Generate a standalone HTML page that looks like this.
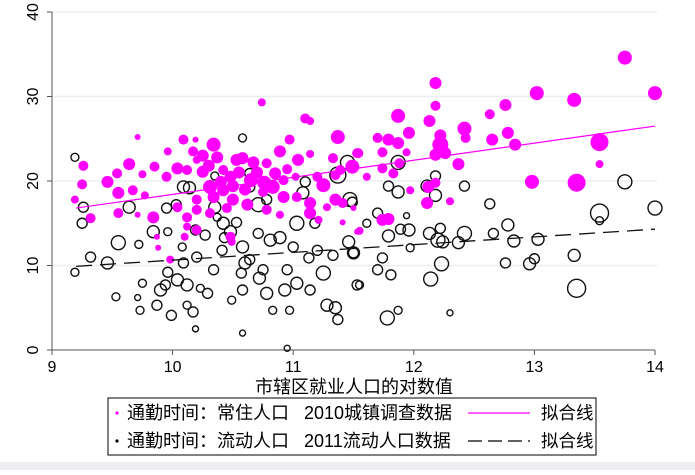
<!DOCTYPE html>
<html><head><meta charset="utf-8">
<style>
html,body{margin:0;padding:0;background:#fff;}
body{width:695px;height:470px;overflow:hidden;font-family:"Liberation Sans","Noto Sans CJK SC",sans-serif;}
</style></head>
<body>
<svg id="chart" width="695" height="470" xmlns="http://www.w3.org/2000/svg" font-family="Liberation Sans, Noto Sans CJK SC, sans-serif">
<rect x="0" y="0" width="695" height="470" fill="#fff"/>
<rect x="0" y="462" width="695" height="8" fill="#eceef2"/>
<g id="grid"></g>
<g id="axes"></g>
<g id="marks"></g>
<g id="fits"></g>
<text x="354" y="393" font-size="18" text-anchor="middle">市辖区就业人口的对数值</text>
<g>
<rect x="108" y="398" width="488" height="57" fill="#fff" stroke="#000" stroke-width="1"/>
<circle cx="117" cy="413" r="1.6" fill="#ff00ff"/>
<text x="127" y="419" font-size="18">通勤时间：常住人口</text>
<text x="304" y="419" font-size="18">2010城镇调查数据</text>
<line x1="468" y1="413" x2="530" y2="413" stroke="#ff00ff" stroke-width="1.3"/>
<text x="541" y="419" font-size="17.5">拟合线</text>
<circle cx="117" cy="441" r="1.6" fill="#000"/>
<text x="127" y="447" font-size="18">通勤时间：流动人口</text>
<text x="304" y="447" font-size="18">2011流动人口数据</text>
<line x1="468" y1="441" x2="530" y2="441" stroke="#000" stroke-width="1.3" stroke-dasharray="14,6"/>
<text x="541" y="447" font-size="17.5">拟合线</text>
</g>
</svg>
<script>
const xTicks=[9,10,11,12,13,14];
const yTicks=[0,10,20,30,40];
const residentX=[13.75,14.0,13.02,13.33,12.18,12.18,12.76,12.63,11.87,12.13,11.96,12.42,12.43,12.22,12.22,12.18,12.26,12.65,12.78,12.84,13.54,13.54,12.98,13.35,11.7,11.79,11.87,11.74,11.54,11.94,12.37,11.88,11.74,11.83,11.61,11.97,12.12,12.18,12.11,12.3,11.74,11.79,11.55,11.5,
10.74,11.1,11.14,11.37,9.71,10.09,10.19,10.34,10.97,9.96,10.17,10.89,10.37,10.2,10.58,11.04,11.14,11.33,11.53,9.26,9.64,9.85,10.04,10.12,9.54,9.75,9.95,10.25,10.42,10.53,10.67,10.78,9.46,9.25,9.67,9.55,9.77,10.48,10.65,10.76,10.83,10.92,11.02,11.2,11.25,11.35,11.39,11.49,10.31,10.42,10.2,10.34,10.5,10.62,10.92,11.03,11.14,11.35,11.41,9.19,9.32,9.55,9.71,9.84,10.04,10.12,10.2,10.31,10.45,10.78,10.89,11.14,11.21,11.28,10.12,10.2,10.48,10.1,9.87,9.88,9.98,10.49,11.41,11.53,
10.3,10.55,10.7,10.85,10.6,10.4,10.95,10.25,10.75,10.5];
const residentY=[34.6,30.4,30.4,29.6,31.6,28.9,29,27.9,27.7,27.1,25.7,26.2,25.1,25.4,24.3,23.1,23.3,24.9,25.7,24.3,24.6,22,19.9,19.8,25.1,24.9,24.5,23.4,23.3,23.4,22,22.1,21.5,20.9,20.5,18.9,19.3,19.8,17.4,17.6,15.4,15.5,14.1,16.8,
29.3,27.4,27.1,25.2,25.2,24.9,24.9,24.3,24.9,23.5,23.5,23.5,22.8,22.5,22.7,22.5,23.2,22.7,23.3,21.8,22,21.7,21.5,21.3,20.9,20.8,20.5,21.1,21.3,22.5,22.2,22.1,19.9,19.6,18.9,18.6,18.3,20.5,20.1,19.8,19.3,20.1,20.5,20.5,19.5,20.7,21.3,21.7,19.3,18.9,17.8,18.1,17.8,17.2,18.1,18.1,17.4,17.8,17.4,17.8,15.6,16.2,16.0,15.7,16.9,15.7,16.6,16.2,16.8,16.6,16.0,16.2,15.4,16.9,14.6,14.2,13.4,13.4,13.4,12.1,10.7,12.8,15.1,14,
21.8,21.0,21.0,20.9,19.0,19.9,21.4,23.0,18.7,19.4];
const residentSize=[7,7,7,7,6,5,6,5,7,6,6,7,5,6,8,6,6,6,6,6,9,4,7,9,5,6,6,5,5,4,6,5,5,5,4,4,6,5,6,4,6,6,4,3,
4,5,4,7,3,5,3,7,5,4,5,6,6,4,6,6,4,5,5,5,6,5,6,5,5,4,5,6,5,6,6,5,6,5,5,6,4,6,7,7,7,5,4,5,7,5,5,7,7,6,5,6,6,6,6,5,6,6,5,4,5,5,3,6,5,5,5,5,5,5,4,6,4,4,4,5,5,4,3,3,4,4,3,3,
6,6,6,6,6,6,5,6,5,6];
const migrantX=[9.19,9.26,9.25,9.19,9.32,9.46,9.53,9.55,9.64,9.72,9.73,9.71,9.75,9.84,9.87,9.9,9.94,9.96,9.96,9.99,9.95,10.03,10.09,10.14,10.04,10.12,10.12,10.17,10.19,10.08,10.09,10.19,10.2,10.27,10.23,10.29,10.34,10.35,10.37,10.35,10.41,10.42,10.48,10.49,10.57,10.58,10.58,10.58,10.6,10.58,10.64,10.64,10.64,10.71,10.71,10.72,10.78,10.78,10.81,10.83,10.89,10.93,10.95,10.97,11.03,11.03,11.08,11.1,11.13,11.14,11.18,11.2,11.25,11.28,11.35,11.37,11.33,11.45,11.37,11.47,11.46,11.5,11.53,10.95,10.53,10.43,10.75,11.0,
11.87,12.18,12.11,12.18,11.79,11.87,12.42,12.63,13.75,14.0,13.54,13.54,11.49,11.7,11.94,11.61,11.79,11.89,11.96,12.13,12.22,12.2,12.24,12.37,12.42,12.66,12.78,12.83,13.03,13.33,13.0,12.96,12.76,12.23,12.14,13.35,11.74,11.81,11.7,11.55,11.78,11.87,12.3,11.5,11.97];
const migrantY=[22.8,16.9,15,9.2,11,10.3,6.3,12.7,16.9,12.5,4.7,6.2,7.9,14,5.3,7.1,7.7,9.2,14,4.1,16.8,17.2,19.3,19.2,8.3,7.7,5.3,4.5,2.5,12.2,10.3,14.2,11,13.6,7.3,6.7,9.5,16.9,15.7,20.6,11.8,15,14,5.9,9.1,12.2,2,25.1,10.3,7.1,20.9,19.3,10.7,17.2,13.8,8.5,17.8,6.7,13,4.7,13.3,7.1,9.5,4.7,7.9,15,18.6,19.9,10.9,7.1,15,11.8,9.1,5.3,5,3.6,11.2,22.2,20.7,17.8,12.8,11.5,7.7,0.2,15.1,13.3,9.5,12.2,
22.2,20.6,19.4,18.3,19.4,18.7,19.4,17.3,19.9,16.8,16.2,15.3,17.5,16.2,15.9,15.0,13.5,14.3,14.2,13.8,14.4,13,12.8,12.7,13.8,13.8,14.8,12.9,13.1,11.2,10.8,10.2,10.3,10.2,8.4,7.3,10.9,8.9,9.5,7.7,3.8,4.7,4.4,11.5,12.1];
const migrantSize=[4,5,5,4,5,6,4,7,6,4,4,3,4,6,5,6,5,5,4,5,5,5,6,6,6,6,4,5,3,4,5,5,5,5,4,5,5,6,4,4,5,6,6,4,5,6,3,4,6,5,5,5,5,7,5,6,5,6,6,4,6,6,5,4,6,7,6,5,5,5,5,5,7,6,6,5,5,7,8,7,6,6,5,3,5,5,5,5,
7,5,6,6,5,6,5,5,7,7,9,4,5,5,3,4,6,5,6,6,5,7,6,6,7,5,6,6,6,6,5,6,5,7,7,9,5,5,5,4,7,4,3,5,4];
const residentFit=[[9.2,16.8],[14,26.5]];
const migrantFit=[[9.2,9.9],[14,14.3]];

const NS="http://www.w3.org/2000/svg";
const X0=52,X1=655,Y0=350,Y1=12;
function sx(v){return X0+(v-9)/5*(X1-X0);}
function sy(v){return Y0-(v/40)*(Y0-Y1);}
function mk(tag,attrs,parent){const e=document.createElementNS(NS,tag);for(const k in attrs)e.setAttribute(k,attrs[k]);parent.appendChild(e);return e;}
const grid=document.getElementById('grid'),axes=document.getElementById('axes'),marks=document.getElementById('marks'),fits=document.getElementById('fits');
yTicks.forEach(t=>{
  if(t>0){const g=mk('line',{x1:X0,x2:X1+2,y1:sy(t),y2:sy(t),stroke:'#eaeef3','stroke-width':1.5},grid);
  
  }
  const tk=mk('line',{x1:X0-5,x2:X0,y1:sy(t),y2:sy(t),stroke:'#555','stroke-width':1},axes);
  
  
  const tx=mk('text',{x:0,y:0,'font-size':16,'text-anchor':'middle',transform:`translate(38,${sy(t)}) rotate(-90)`},axes);
  tx.textContent=t;
  
  
});
xTicks.forEach(t=>{
  const tk=mk('line',{x1:sx(t),x2:sx(t),y1:Y0,y2:Y0+5,stroke:'#555','stroke-width':1},axes);
  
  
  const tx=mk('text',{x:sx(t),y:Y0+22,'font-size':16,'text-anchor':'middle'},axes);
  tx.textContent=t;
  
  
});
const ya=mk('line',{x1:X0,x2:X0,y1:Y1,y2:Y0,stroke:'#555','stroke-width':1},axes);


const xa=mk('line',{x1:X0,x2:X1,y1:Y0,y2:Y0,stroke:'#555','stroke-width':1},axes);


migrantX.forEach((x,i)=>{
  const c=mk('circle',{cx:sx(x),cy:sy(migrantY[i]),r:migrantSize[i],fill:'none',stroke:'#111','stroke-width':1.4},marks);
  
  
});
residentX.forEach((x,i)=>{
  const c=mk('circle',{cx:sx(x),cy:sy(residentY[i]),r:residentSize[i],fill:'#ff00ff'},marks);
  
  
});
const f1=mk('line',{x1:sx(residentFit[0][0]),y1:sy(residentFit[0][1]),x2:sx(residentFit[1][0]),y2:sy(residentFit[1][1]),stroke:'#ff00ff','stroke-width':1.2},fits);


const f2=mk('line',{x1:sx(migrantFit[0][0]),y1:sy(migrantFit[0][1]),x2:sx(migrantFit[1][0]),y2:sy(migrantFit[1][1]),stroke:'#111','stroke-width':1.3,'stroke-dasharray':'16,8'},fits);


</script>
</body></html>
